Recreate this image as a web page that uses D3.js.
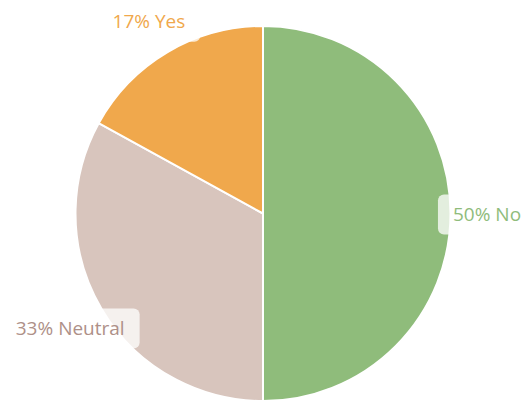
<!DOCTYPE html>
<html>
<head>
<meta charset="utf-8">
<script src="https://cdn.jsdelivr.net/npm/d3@7"></script>
<style>
  html, body { margin: 0; padding: 0; background: #fff; }
  svg { display: block; }
</style>
</head>
<body>
<div id="chart"></div>
<script>
// Data
const labels = ['No', 'Neutral', 'Yes'];
const values = [50, 33, 17];
const sliceColors = ['#8fbc7b', '#d8c5bd', '#f0a84c'];
const textColors = ['#8fbc7b', '#ae9088', '#f0a84c'];

const W = 524, H = 401;
const cx = 263, cy = 213.5, radius = 187.5;
const labelRadius = 224;

const svg = d3.select('#chart').append('svg')
    .attr('width', W)
    .attr('height', H);

const g = svg.append('g').attr('transform', `translate(${cx},${cy})`);

const pie = d3.pie().sort(null).value(d => d.value);
const arc = d3.arc().innerRadius(0).outerRadius(radius);
const labelArc = d3.arc().innerRadius(labelRadius).outerRadius(labelRadius);

const data = labels.map((l, i) => ({ label: l, value: values[i], i }));
const arcs = pie(data);

// Slices
g.selectAll('path.slice')
    .data(arcs)
    .enter().append('path')
    .attr('class', 'slice')
    .attr('d', arc)
    .attr('fill', d => sliceColors[d.data.i])
    .attr('stroke', '#fff')
    .attr('stroke-width', 2)
    .attr('stroke-linejoin', 'round');

// Labels
const lab = g.selectAll('g.label')
    .data(arcs)
    .enter().append('g')
    .attr('class', 'label')
    .attr('transform', d => `translate(${labelArc.centroid(d)})`);

const texts = lab.append('text')
    .attr('text-anchor', 'middle')
    .attr('dy', '0.37em')
    .attr('font-family', '"Open Sans", sans-serif')
    .attr('font-size', 19)
    .attr('fill', d => textColors[d.data.i])
    .text(d => `${d.data.value}% ${d.data.label}`);

texts.each(function () {
    const bb = this.getBBox();
    d3.select(this.parentNode).insert('rect', 'text')
        .attr('x', bb.x - 15)
        .attr('y', -19)
        .attr('width', bb.width + 30)
        .attr('height', 40)
        .attr('rx', 6)
        .attr('fill', '#fff')
        .attr('fill-opacity', 0.75);
});
</script>
</body>
</html>
